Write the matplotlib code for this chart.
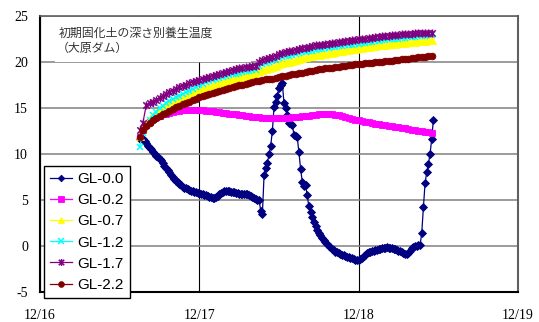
import numpy as np
import matplotlib
matplotlib.use("Agg")
import matplotlib.pyplot as plt
from matplotlib.path import Path
from matplotlib.patches import Rectangle

# ---------------- data ----------------
x_tick_labels = ["12/16", "12/17", "12/18", "12/19"]
series_labels = ["GL-0.0", "GL-0.2", "GL-0.7", "GL-1.2", "GL-1.7", "GL-2.2"]

start_day = 0.625            # 12/16 15:00 (days after 12/16 00:00)
step_fast = 1 / 96           # 15 min (GL-0.0)
step_slow = 1 / 48           # 30 min (other depths)

gl00 = [11.6, 11.7, 11.6, 11.4, 11.2, 10.9, 10.7, 10.5,
        10.2, 10.0, 9.8, 9.65, 9.5, 9.3, 9.0, 8.75,
        8.5, 8.25, 8.0, 7.75, 7.5, 7.3, 7.1, 6.95,
        6.75, 6.6, 6.45, 6.35, 6.3, 6.2, 6.1, 6.0,
        5.95, 5.9, 5.85, 5.8, 5.75, 5.7, 5.6, 5.55,
        5.5, 5.4, 5.35, 5.3, 5.25, 5.2, 5.3, 5.45,
        5.6, 5.75, 5.85, 5.95, 6.0, 6.0, 5.95, 5.9,
        5.85, 5.85, 5.8, 5.75, 5.7, 5.65, 5.65, 5.6,
        5.65, 5.6, 5.5, 5.4, 5.3, 5.2, 5.1, 5.05,
        5.0, 3.8, 3.5, 7.7, 8.5, 9.0, 10.0, 10.9,
        12.5, 15.1, 15.7, 16.3, 17.2, 17.5, 17.7, 15.5,
        15.0, 14.2, 13.4, 13.3, 13.2, 12.1, 11.95, 11.8,
        10.2, 8.4, 7.0, 6.5, 6.6, 5.5, 4.3, 3.7,
        3.1, 2.6, 2.15, 1.75, 1.45, 1.15, 0.9, 0.7,
        0.45, 0.25, 0.0, -0.15, -0.3, -0.45, -0.6, -0.7,
        -0.8, -0.9, -0.95, -1.0, -1.1, -1.15, -1.2, -1.3,
        -1.35, -1.4, -1.5, -1.55, -1.5, -1.4, -1.3, -1.1,
        -0.95, -0.8, -0.7, -0.6, -0.5, -0.5, -0.45, -0.45,
        -0.35, -0.3, -0.25, -0.2, -0.2, -0.15, -0.2, -0.2,
        -0.2, -0.3, -0.35, -0.4, -0.5, -0.55, -0.65, -0.75,
        -0.85, -0.9, -0.75, -0.5, -0.25, -0.1, 0.0, 0.05,
        0.1, 0.1, 1.4, 4.2, 6.8, 8.0, 8.9, 10.0,
        11.6, 13.7]

gl02 = [11.9, 12.6, 13.1, 13.5, 13.8, 14.0, 14.15, 14.3, 14.4, 14.5,
        14.6, 14.65, 14.7, 14.75, 14.8, 14.8, 14.8, 14.8, 14.75, 14.75,
        14.7, 14.7, 14.65, 14.6, 14.55, 14.5, 14.45, 14.4, 14.35, 14.3,
        14.25, 14.2, 14.15, 14.1, 14.05, 14.0, 14.0, 13.95, 13.9, 13.9,
        13.9, 13.9, 13.9, 13.9, 13.95, 13.95, 14.0, 14.0, 14.05, 14.1,
        14.1, 14.15, 14.2, 14.25, 14.3, 14.3, 14.3, 14.3, 14.3, 14.25,
        14.2, 14.1, 14.0, 13.9, 13.8, 13.7, 13.65, 13.6, 13.5, 13.45,
        13.4, 13.3, 13.25, 13.2, 13.1, 13.05, 13.0, 12.95, 12.9, 12.85,
        12.8, 12.7, 12.65, 12.6, 12.5, 12.45, 12.4, 12.35, 12.3]

gl07 = [12.0, 12.8, 13.4, 13.8, 14.15, 14.45, 14.75, 15.0, 15.2, 15.4,
        15.6, 15.8, 15.95, 16.1, 16.3, 16.45, 16.6, 16.75, 16.9, 17.05,
        17.2, 17.3, 17.45, 17.55, 17.7, 17.8, 17.95, 18.05, 18.15, 18.25,
        18.35, 18.45, 18.5, 18.6, 18.65, 18.75, 19.0, 19.1, 19.25, 19.35,
        19.5, 19.6, 19.75, 19.85, 19.95, 20.05, 20.15, 20.25, 20.35, 20.45,
        20.5, 20.6, 20.65, 20.75, 20.8, 20.85, 20.9, 20.95, 21.0, 21.1,
        21.15, 21.2, 21.3, 21.35, 21.4, 21.45, 21.5, 21.55, 21.6, 21.65,
        21.7, 21.75, 21.8, 21.85, 21.9, 21.95, 21.95, 22.0, 22.05, 22.1,
        22.1, 22.15, 22.2, 22.2, 22.25, 22.3, 22.3, 22.35, 22.35]

gl12 = [10.8, 12.3, 13.1, 13.7, 14.2, 14.6, 14.95, 15.25, 15.5, 15.75,
        15.95, 16.15, 16.35, 16.55, 16.7, 16.85, 17.05, 17.25, 17.45, 17.65,
        17.85, 17.95, 18.05, 18.15, 18.25, 18.35, 18.45, 18.55, 18.65, 18.75,
        18.85, 18.9, 19.0, 19.05, 19.1, 19.15, 19.6, 19.75, 19.85, 20.0,
        20.1, 20.25, 20.4, 20.5, 20.6, 20.7, 20.8, 20.85, 20.95, 21.05,
        21.1, 21.2, 21.25, 21.35, 21.4, 21.45, 21.5, 21.55, 21.6, 21.65,
        21.7, 21.75, 21.8, 21.85, 21.9, 21.95, 22.0, 22.05, 22.1, 22.15,
        22.2, 22.25, 22.3, 22.35, 22.4, 22.45, 22.5, 22.55, 22.55, 22.6,
        22.65, 22.7, 22.7, 22.75, 22.8, 22.8, 22.85, 22.9, 22.9]

gl17 = [12.6, 13.4, 15.3, 15.5, 15.7, 15.9, 16.1, 16.3, 16.5, 16.7,
        16.9, 17.05, 17.25, 17.4, 17.55, 17.7, 17.85, 17.95, 18.05, 18.15,
        18.3, 18.4, 18.5, 18.6, 18.7, 18.8, 18.9, 19.0, 19.1, 19.2,
        19.3, 19.35, 19.45, 19.5, 19.55, 19.6, 20.05, 20.2, 20.3, 20.45,
        20.55, 20.7, 20.85, 20.95, 21.05, 21.15, 21.25, 21.3, 21.4, 21.5,
        21.55, 21.65, 21.7, 21.8, 21.85, 21.9, 21.95, 22.0, 22.05, 22.1,
        22.15, 22.2, 22.25, 22.3, 22.35, 22.4, 22.45, 22.5, 22.55, 22.6,
        22.65, 22.7, 22.75, 22.8, 22.85, 22.85, 22.9, 22.95, 22.95, 23.0,
        23.0, 23.05, 23.05, 23.1, 23.1, 23.15, 23.15, 23.2, 23.2]

gl22 = [11.8, 12.6, 13.05, 13.4, 13.65, 13.9, 14.1, 14.3, 14.5, 14.7,
        14.9, 15.1, 15.25, 15.4, 15.55, 15.7, 15.85, 16.0, 16.15, 16.3,
        16.45, 16.55, 16.65, 16.75, 16.85, 16.95, 17.05, 17.15, 17.25, 17.35,
        17.45, 17.55, 17.65, 17.7, 17.8, 17.9, 17.95, 18.0, 18.1, 18.15,
        18.2, 18.3, 18.35, 18.45, 18.5, 18.6, 18.65, 18.7, 18.8, 18.85,
        18.9, 19.0, 19.05, 19.1, 19.2, 19.25, 19.3, 19.35, 19.4, 19.45,
        19.5, 19.55, 19.6, 19.65, 19.7, 19.75, 19.75, 19.8, 19.85, 19.9,
        19.9, 19.95, 20.0, 20.05, 20.1, 20.1, 20.15, 20.2, 20.25, 20.3,
        20.3, 20.35, 20.4, 20.45, 20.5, 20.5, 20.55, 20.6, 20.65]

# ---------------- figure ----------------
W, H = 539, 322
fig = plt.figure(figsize=(W / 100, H / 100), dpi=100)
L, R, T, B = 40, 518, 16, 292
ax = fig.add_axes([L / W, 1 - B / H, (R - L) / W, (B - T) / H])

t_fast = start_day + step_fast * np.arange(len(gl00))
t_slow = start_day + step_slow * np.arange(len(gl02))

star = Path([(-1, -1), (1, 1), (-1, 1), (1, -1), (0, -1.25), (0, 1.25)],
            [Path.MOVETO, Path.LINETO, Path.MOVETO, Path.LINETO, Path.MOVETO, Path.LINETO])

styles = [
    dict(color="#000080", marker="D", ms=3.9, mfc="#000080", mec="#000080", mew=0.6),
    dict(color="#FF00FF", marker="s", ms=4.4, mfc="#FF00FF", mec="#FF00FF", mew=0.6),
    dict(color="#FFFF00", marker="^", ms=5.4, mfc="#FFFF00", mec="#FFFF00", mew=0.6),
    dict(color="#00FFFF", marker="x", ms=4.6, mec="#00FFFF", mew=1.1),
    dict(color="#800080", marker=star, ms=5.8, mfc="none", mec="#800080", mew=1.1),
    dict(color="#800000", marker="o", ms=4.8, mfc="#800000", mec="#800000", mew=0.6),
]
data = [(t_fast, gl00), (t_slow, gl02), (t_slow, gl07), (t_slow, gl12), (t_slow, gl17), (t_slow, gl22)]

for i, ((tx, vals), st, lab) in enumerate(zip(data, styles, series_labels)):
    ax.plot(tx, vals, lw=0.9, label=lab, zorder=3 + i, **st)

ax.set_xlim(0, 3)
ax.set_ylim(-5, 25)
ax.set_xticks([0, 1, 2, 3])
ax.set_xticklabels(x_tick_labels)
ax.set_yticks([-5, 0, 5, 10, 15, 20, 25])
ax.set_yticklabels(["-5", "0", "5", "10", "15", "20", "25"])

for lab in ax.get_xticklabels() + ax.get_yticklabels():
    lab.set_fontfamily("Liberation Serif")
    lab.set_fontsize(10)
ax.tick_params(axis="both", length=0)
ax.tick_params(axis="y", pad=8.6)
ax.tick_params(axis="x", pad=12.5)

ax.set_axisbelow(True)
ax.yaxis.grid(True, color="#808080", lw=1.1)
ax.xaxis.grid(True, color="black", lw=0.8)

ax.spines["left"].set_color("black")
ax.spines["left"].set_linewidth(1.5)
ax.spines["bottom"].set_color("black")
ax.spines["bottom"].set_linewidth(1.5)
ax.spines["top"].set_color("#606060")
ax.spines["top"].set_linewidth(1.2)
ax.spines["right"].set_color("#606060")
ax.spines["right"].set_linewidth(1.5)

# white text box behind the title
ax.add_patch(Rectangle((0.094, 19.97), 1.23, 4.9, facecolor="white", edgecolor="none", zorder=1))

cjk = ["Noto Sans CJK JP", "DejaVu Sans"]
fig.text(59 / W, 1 - 33 / H, "初期固化土の深さ別養生温度", family=cjk, fontsize=8.6,
         color="#333333", va="center", ha="left")
fig.text(57 / W, 1 - 48 / H, "（大原ダム）", family=cjk, fontsize=8.6,
         color="#333333", va="center", ha="left")

leg = ax.legend(loc="upper left", bbox_to_anchor=((44 - L) / (R - L), (B - 166) / (B - T)),
                borderaxespad=0, frameon=True, fancybox=False, edgecolor="black",
                framealpha=1, prop={"family": "Liberation Sans", "size": 11},
                handlelength=1.45, handletextpad=0.35, labelspacing=0.47,
                borderpad=0.4, markerscale=0.85)
leg.get_frame().set_linewidth(1.0)
leg.set_zorder(20)

fig.savefig("out.png", dpi=100)
